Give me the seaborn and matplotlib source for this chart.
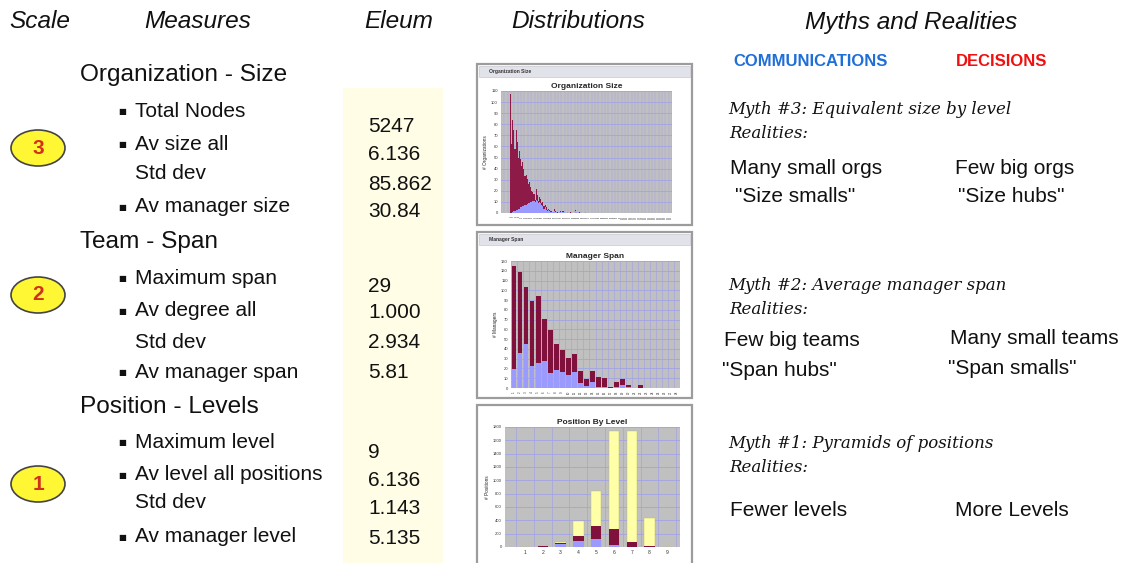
import numpy as np
import pandas as pd
import matplotlib
matplotlib.use("Agg")
import matplotlib.pyplot as plt
from matplotlib.patches import Rectangle, Ellipse
import seaborn as sns

# -----------------------------
# Data
# -----------------------------
# Organization Size: # organizations per size (total, and the blue part of it)
org_total = [107, 62, 84, 75, 58, 75, 64, 50, 56, 49, 42, 46, 40, 33, 34, 31, 26, 28, 23, 20,
             19, 17, 12, 22, 16, 11, 14, 13, 9, 10, 6, 7, 5, 3, 4, 3, 2, 2, 1, 4,
             2, 1, 1, 0, 1, 2, 0, 2, 1, 0, 0, 1, 0, 0, 1, 0, 0, 0, 3, 1,
             0, 0, 1, 0, 0, 0, 0, 1]
org_blue = [0, 0, 1, 2, 2, 3, 3, 4, 4, 5, 5, 6, 6, 7, 7, 8, 9, 9, 10, 10,
            11, 11, 10, 12, 11, 9, 10, 9, 7, 6, 4, 5, 3, 2, 3, 2, 1, 1, 1, 2,
            1, 1, 0, 0, 1, 1, 0, 1, 1, 0, 0, 1, 0, 0, 0, 0, 0, 0, 2, 1,
            0, 0, 0, 0, 0, 0, 0, 1]
n_org = 145
org_total = org_total + [0] * (n_org - len(org_total))
org_blue = org_blue + [0] * (n_org - len(org_blue))
org_sizes = [str(i) for i in range(1, n_org + 1)]

# Manager Span: # managers per span
span_total = [125, 119, 103, 89, 94, 71, 59, 45, 39, 31, 35, 17, 9, 17, 11, 10, 1, 6, 9, 3,
              0, 3, 0, 0, 0, 0.5, 0.5, 0]
span_blue = [19, 36, 45, 23, 26, 28, 15, 18, 16, 13, 16, 5, 2, 6, 1, 1, 0, 1, 3, 1,
             0, 0, 0, 0, 0, 0, 0, 0]
spans = [str(i) for i in range(1, len(span_total) + 1)]

# Position By Level: # positions per level, three stacked parts
levels = ["1", "2", "3", "4", "5", "6", "7", "8", "9"]
pos_blue = [0, 5, 45, 85, 115, 30, 5, 0, 0]
pos_maroon = [0, 3, 17, 80, 200, 240, 70, 10, 0]
pos_yellow = [0, 2, 18, 220, 525, 1470, 1660, 430, 0]

# Table text
sections = ["Organization - Size", "Team - Span", "Position - Levels"]
measures = [
    ["Total Nodes", "Av size all", "Std dev", "Av manager size"],
    ["Maximum span", "Av degree all", "Std dev", "Av manager span"],
    ["Maximum level", "Av level all positions", "Std dev", "Av manager level"],
]
eleum = [
    ["5247", "6.136", "85.862", "30.84"],
    ["29", "1.000", "2.934", "5.81"],
    ["9", "6.136", "1.143", "5.135"],
]
scales = ["3", "2", "1"]
myths = ["Myth #3: Equivalent size by level",
         "Myth #2: Average manager span",
         "Myth #1: Pyramids of positions"]
comm_real = [["Many small orgs", '"Size smalls"'],
             ["Few big teams", '"Span hubs"'],
             ["Fewer levels", ""]]
dec_real = [["Few big orgs", '"Size hubs"'],
            ["Many small teams", '"Span smalls"'],
            ["More Levels", ""]]

# -----------------------------
# Figure setup
# -----------------------------
sns.set_style("white")
plt.rcParams["font.family"] = ["Liberation Sans", "DejaVu Sans"]

W, H = 1122, 563
fig = plt.figure(figsize=(W / 100, H / 100), dpi=100)
fig.patch.set_facecolor("white")


def fx(x):
    return x / W


def fy(y):
    return 1 - y / H


def put(x, y, s, **kw):
    kw.setdefault("va", "center")
    kw.setdefault("ha", "left")
    kw.setdefault("color", "#111111")
    fig.text(fx(x), fy(y), s, **kw)


def box(x0, y0, x1, y1, **kw):
    fig.add_artist(Rectangle((fx(x0), fy(y1)), (x1 - x0) / W, (y1 - y0) / H,
                             transform=fig.transFigure, **kw))


# column headers
for x, s in [(40, "Scale"), (198, "Measures"), (399, "Eleum"),
             (578, "Distributions"), (911, "Myths and Realities")]:
    put(x, 22, s, ha="center", fontsize=17.6, style="italic")

put(811, 62, "COMMUNICATIONS", ha="center", fontsize=12, weight="bold", color="#1F6FD8")
put(1002, 62, "DECISIONS", ha="center", fontsize=12, weight="bold", color="#F01010")

# Eleum column background
box(343, 88, 443, 563, facecolor="#FFFDE6", edgecolor="none", zorder=-3)

# -----------------------------
# Left table
# -----------------------------
sec_y = [75, 242, 407]
item_y = [[111, 144, 173, 207], [278, 311, 342, 372], [442, 475, 503, 537]]
val_y = [[127, 155, 184, 211], [286, 313, 343, 372], [452, 481, 509, 538]]
circle_y = [148, 295, 484]

for k in range(3):
    put(80, sec_y[k], sections[k], fontsize=17.6)
    for j, name in enumerate(measures[k]):
        if name != "Std dev":
            put(118, item_y[k][j] + 0.5, "\u25a0", fontsize=6, family="DejaVu Sans")
        put(135, item_y[k][j], name, fontsize=15)
    for j, v in enumerate(eleum[k]):
        put(368, val_y[k][j], v, fontsize=15)
    fig.add_artist(Ellipse((fx(38), fy(circle_y[k])), 54 / W, 36 / H,
                           transform=fig.transFigure, facecolor="#FFF733",
                           edgecolor="#444444", lw=1.2))
    put(38, circle_y[k], scales[k], ha="center", fontsize=15, weight="bold",
        color="#D2301C")

# -----------------------------
# Myths and realities
# -----------------------------
serif = ["DejaVu Serif"]
myth_y = [110, 285, 444]
real_y = [134, 310, 468]
for k in range(3):
    put(728, myth_y[k], myths[k], fontsize=12, style="italic", family=serif)
    put(729, real_y[k], "Realities:", fontsize=12, style="italic", family=serif)

put(730, 168, comm_real[0][0], fontsize=15)
put(735, 197, comm_real[0][1], fontsize=15)
put(955, 168, dec_real[0][0], fontsize=15)
put(958, 197, dec_real[0][1], fontsize=15)
put(724, 340, comm_real[1][0], fontsize=15)
put(722, 370, comm_real[1][1], fontsize=15)
put(950, 338, dec_real[1][0], fontsize=15)
put(948, 368, dec_real[1][1], fontsize=15)
put(730, 510, comm_real[2][0], fontsize=15)
put(955, 510, dec_real[2][0], fontsize=15)

# -----------------------------
# Mini Excel-style charts
# -----------------------------
PLOT_BG = "#C0C0C0"
GRID = "#A3A3E6"
MAROON = "#80103C"
BLUE = "#9A9AFF"
YELLOW = "#FFFFA8"


def frame(y0, y1, title, bar=True):
    box(477, y0, 692, y1, facecolor="white", edgecolor="#9C9C9C", lw=1.6, zorder=-2)
    if bar:
        box(479, y0 + 2, 690, y0 + 13, facecolor="#E2E2EA", edgecolor="#C8C8D0",
            lw=0.5, zorder=-1)
        put(489, y0 + 7.5, title, fontsize=3.6, weight="bold", color="#333333")


def mini_axes(x0, y0, x1, y1):
    ax = fig.add_axes([fx(x0), fy(y1), (x1 - x0) / W, (y1 - y0) / H])
    ax.set_facecolor(PLOT_BG)
    for s in ax.spines.values():
        s.set_visible(False)
    ax.tick_params(length=1.2, width=0.4, pad=1, colors="#333333")
    return ax


def style_mini(ax, title, ylabel, ymax, ystep, xfs, xrot):
    ax.set_ylim(0, ymax)
    ax.set_yticks(np.arange(0, ymax + 1, ystep))
    ax.tick_params(axis="y", labelsize=3)
    ax.tick_params(axis="x", labelsize=xfs, labelrotation=xrot)
    ax.set_xlabel("")
    ax.set_ylabel(ylabel, fontsize=3.4, labelpad=2)
    ax.set_title(title, fontsize=6, weight="bold", pad=2.5)
    ax.yaxis.grid(True, color=GRID, lw=0.6)
    ax.set_axisbelow(True)


# 1. Organization Size
frame(64, 225, "Organization Size")
ax1 = mini_axes(501, 91, 672, 213)
org_df = pd.DataFrame({"size": org_sizes, "total": org_total, "blue": org_blue})
sns.barplot(data=org_df, x="size", y="total", color="#8E1A48", width=1.0,
            saturation=1, linewidth=0, ax=ax1)
sns.barplot(data=org_df, x="size", y="blue", color=BLUE, width=1.0,
            saturation=1, linewidth=0, ax=ax1)
style_mini(ax1, "Organization Size", "# Organizations", 110, 10, 1.4, 90)
ax1.set_xlim(-8.5, n_org - 0.5)
for xv in np.arange(-8.5, n_org, 3):
    ax1.axvline(xv, color=GRID, lw=0.35, zorder=0.5)

# 2. Manager Span
frame(232, 398, "Manager Span")
ax2 = mini_axes(511, 261, 680, 388)
span_df = pd.DataFrame({"span": spans, "total": span_total, "blue": span_blue})
sns.barplot(data=span_df, x="span", y="total", color=MAROON, width=0.78,
            saturation=1, linewidth=0, ax=ax2)
sns.barplot(data=span_df, x="span", y="blue", color=BLUE, width=0.78,
            saturation=1, linewidth=0, ax=ax2)
style_mini(ax2, "Manager Span", "# Managers", 130, 10, 2.2, 90)
ax2.set_xlim(-0.5, len(spans) - 0.5)
for xv in np.arange(-0.5, len(spans), 1):
    ax2.axvline(xv, color=GRID, lw=0.45, zorder=0.5)

# 3. Position By Level
frame(405, 570, "Position By Level", bar=False)
ax3 = mini_axes(505, 427, 680, 547)
pos_df = pd.DataFrame({"level": levels, "blue": pos_blue,
                       "maroon": pos_maroon, "yellow": pos_yellow})
pos_df["mid"] = pos_df["blue"] + pos_df["maroon"]
pos_df["top"] = pos_df["mid"] + pos_df["yellow"]
sns.barplot(data=pos_df, x="level", y="top", color=YELLOW, width=0.58,
            saturation=1, edgecolor="#B8B870", linewidth=0.3, ax=ax3)
sns.barplot(data=pos_df, x="level", y="mid", color=MAROON, width=0.58,
            saturation=1, linewidth=0, ax=ax3)
sns.barplot(data=pos_df, x="level", y="blue", color=BLUE, width=0.58,
            saturation=1, linewidth=0, ax=ax3)
style_mini(ax3, "Position By Level", "# Positions", 1800, 200, 3.6, 0)
ax3.set_xlim(-1.12, 8.71)
for xv in np.arange(-0.5, 9, 1):
    ax3.axvline(xv, color=GRID, lw=0.5, zorder=0.5)

fig.savefig("out.png", dpi=100, facecolor="white")
